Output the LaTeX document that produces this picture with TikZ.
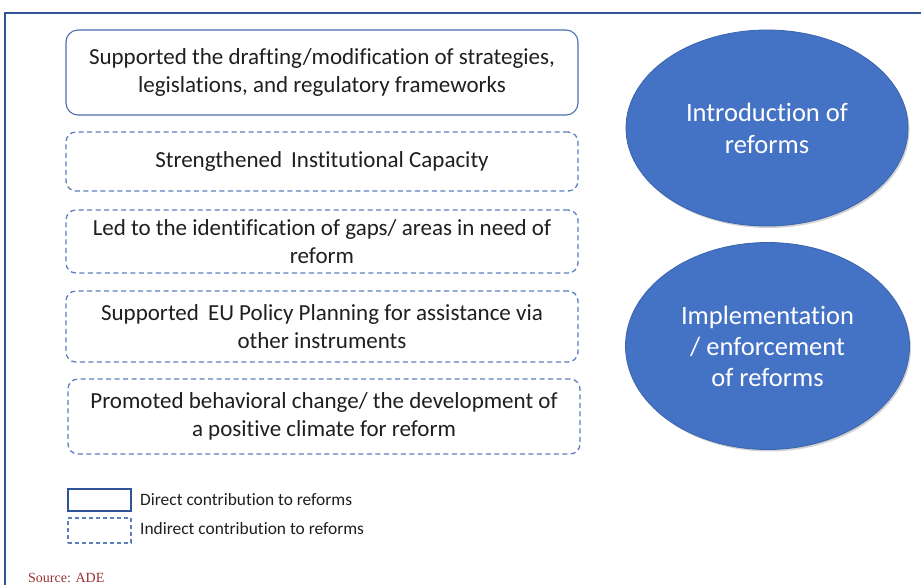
\documentclass[tikz,border=0pt]{standalone}
\usepackage{fontspec}
\setmainfont[Ligatures=NoCommon]{Carlito}
\newfontfamily\timesf{Liberation Serif}
\usetikzlibrary{shapes.geometric,shadows}
\definecolor{frameblue}{HTML}{2F5597}
\definecolor{boxblue}{HTML}{4A6FB0}
\definecolor{dashblue}{HTML}{5B7FBF}
\definecolor{ellfill}{HTML}{4472C4}
\definecolor{ellline}{HTML}{3A64AE}
\definecolor{txt}{HTML}{1F1F1F}
\definecolor{srcred}{HTML}{993333}
\tikzset{
  solidbox/.style={draw=boxblue, line width=1.1pt, rounded corners=12pt, minimum width=512pt, align=center, text=txt, font=\fontsize{23}{28}\selectfont, inner sep=0pt},
  dashbox/.style={draw=dashblue, line width=1.3pt, dash pattern=on 5pt off 3.5pt, rounded corners=10pt, minimum width=512pt, align=center, text=txt, font=\fontsize{23}{28}\selectfont, inner sep=0pt},
  bigell/.style={ellipse, draw=ellline, line width=0.8pt, fill=ellfill, text=white, align=center, inner sep=0pt, drop shadow={shadow xshift=1.5pt, shadow yshift=-2pt, opacity=0.35}},
  legsolid/.style={draw=frameblue, line width=1.2pt, minimum width=63pt, minimum height=22pt, inner sep=0pt},
  legdash/.style={draw=dashblue, line width=1.2pt, dash pattern=on 4pt off 3pt, minimum width=63pt, minimum height=25pt, inner sep=0pt},
  legtext/.style={anchor=west, text=txt, font=\fontsize{17.4}{20}\selectfont, inner sep=0pt},
}
\begin{document}
\begin{tikzpicture}[x=1pt,y=-1pt]
\useasboundingbox (0,0) rectangle (921,585);
\fill[white] (0,0) rectangle (921,585);
\draw[frameblue, line width=2pt] (5,585) -- (5,13) -- (922,13);

\node[solidbox, minimum height=85pt] (b1) at (322,72.5) {Supported the drafting/modification of strategies,\\legislations, and regulatory frameworks};
\node[dashbox, minimum height=59pt] (b2) at (322,161.5) {Strengthened\, Institutional Capacity};
\node[dashbox, minimum height=63pt] (b3) at (322,241.5) {Led to the identification of gaps/ areas in need of\\reform};
\node[dashbox, minimum height=71pt] (b4) at (322,326.5) {Supported\, EU Policy Planning for assistance via\\other instruments};
\node[dashbox, minimum height=75pt] (b5) at (324,416.5) {Promoted behavioral change/ the development of\\a positive climate for reform};

\node[bigell, minimum width=282pt, minimum height=196pt, font=\fontsize{26.5}{32}\selectfont] (e1) at (767,128) {Introduction of\\reforms};
\node[bigell, minimum width=284pt, minimum height=207pt, font=\fontsize{26.5}{31}\selectfont] (e2) at (767.5,346) {Implementation\\/ enforcement\\of reforms};

\node[legsolid] (l1) at (99.5,500) {};
\node[legdash] (l2) at (99.5,530.5) {};
\node[legtext] (t1) at (140,500) {Direct contribution to reforms};
\node[legtext] (t2) at (140,529) {Indirect contribution to reforms};

\node[anchor=west, inner sep=0pt, text=srcred, font=\timesf\fontsize{14}{16}\selectfont] (src) at (28,578) {Source: ADE};
\end{tikzpicture}
\end{document}
